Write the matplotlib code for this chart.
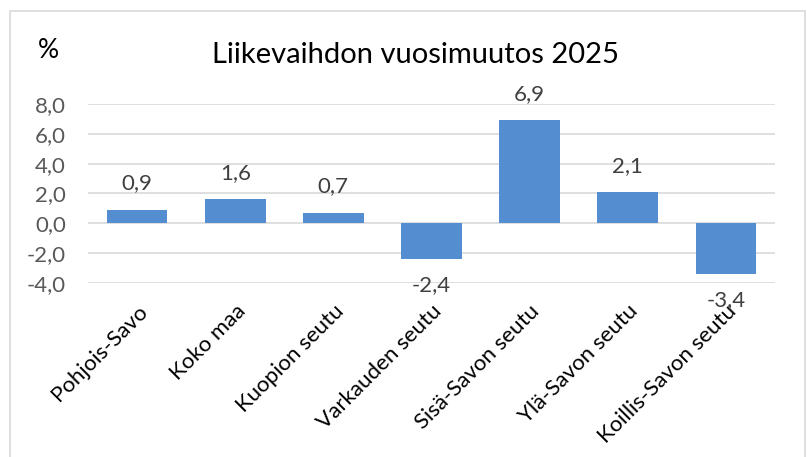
import matplotlib
matplotlib.use("Agg")
import matplotlib.pyplot as plt
from matplotlib.patches import Rectangle

# data
categories = ["Pohjois-Savo", "Koko maa", "Kuopion seutu", "Varkauden seutu",
              "Sisä-Savon seutu", "Ylä-Savon seutu", "Koillis-Savon seutu"]
values = [0.9, 1.6, 0.7, -2.4, 6.9, 2.1, -3.4]
yticks = [-4, -2, 0, 2, 4, 6, 8]

plt.rcParams['font.family'] = ['Lato', 'DejaVu Sans']

fig = plt.figure(figsize=(8.07, 4.57), dpi=100)
ax = fig.add_axes([88/807, 1-283/457, (775-88)/807, (283-104)/457])

# chart border like excel
fig.patches.append(Rectangle((10/807, -0.05), 795/807, 1.05-11/457,
                             transform=fig.transFigure, fill=False,
                             edgecolor='#d9d9d9', linewidth=1.2))

x = range(len(categories))
ax.bar(x, values, width=0.62, color='#558ED0', zorder=3)
ax.set_xlim(-0.5, len(categories)-0.5)
ax.set_ylim(-4, 8)
ax.set_yticks(yticks)
ax.set_yticklabels([f"{v:.1f}".replace('.', ',') for v in yticks],
                   fontsize=16, color='#595959')
ax.tick_params(axis='y', length=0, pad=16)
ax.grid(axis='y', color='#d9d9d9', linewidth=1.2, zorder=0)
for s in ax.spines.values():
    s.set_visible(False)

ax.set_xticks(list(x))
ax.set_xticklabels(categories, rotation=45, ha='right', rotation_mode='anchor',
                   fontsize=16, color='#000000')
ax.tick_params(axis='x', length=0, pad=13)

# data labels
for i, v in enumerate(values):
    off = 19 if v >= 0 else -19
    ax.annotate(f"{v:.1f}".replace('.', ','), (i, v), xytext=(0, off),
                textcoords='offset points', ha='center', va='center',
                fontsize=16, color='#404040', zorder=4)

fig.text(415/807, 1-55/457, "Liikevaihdon vuosimuutos 2025", ha='center',
         va='center', fontsize=21, color='#000000')
fig.text(48/807, 1-50/457, "%", ha='center', va='center', fontsize=19,
         color='#000000')

fig.savefig("out.png", dpi=100)
